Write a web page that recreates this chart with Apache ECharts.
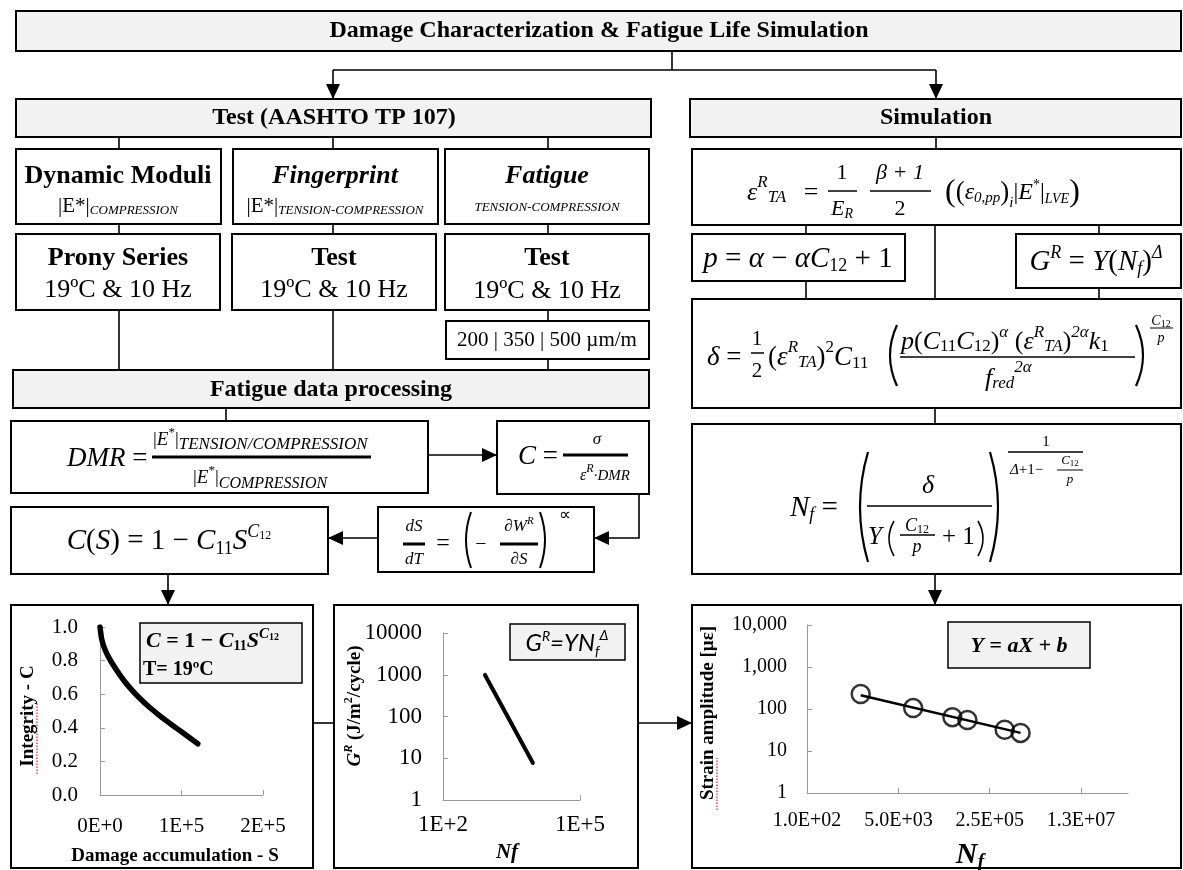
<!DOCTYPE html>
<html><head><meta charset="utf-8">
<script src="https://cdn.jsdelivr.net/npm/echarts@6/dist/echarts.min.js"></script>
<style>html,body{margin:0;padding:0;background:#fff}#c{width:1183px;height:870px}</style>
</head><body><div id="c"></div>
<script>
// ---------- DATA ----------
// Chart 1: damage characteristic curve C(S)
const damageS = [0, 2000, 5000, 10000, 20000, 30000, 40000, 50000, 60000, 70000, 80000, 90000, 100000, 110000, 120000];
const integrityC = [1.0, 0.93, 0.88, 0.825, 0.745, 0.677, 0.62, 0.57, 0.525, 0.485, 0.447, 0.411, 0.376, 0.341, 0.305];
const c1XLabels = ['0E+0', '1E+5', '2E+5'];
const c1YLabels = ['0.0', '0.2', '0.4', '0.6', '0.8', '1.0'];
// Chart 2: G^R vs Nf
const nfG = [830, 9300];
const grG = [990, 7.7];
const c2XLabels = ['1E+2', '1E+5'];
const c2YLabels = ['1', '10', '100', '1000', '10000'];
// Chart 3: strain amplitude vs Nf
const nfTest = [1000, 9500, 51000, 97000, 480000, 950000];
const strainTest = [228, 105, 64, 55, 32, 27];
const nfTrend = [1000, 950000];
const strainTrend = [212, 27];
const c3XLabels = ['1.0E+02', '5.0E+03', '2.5E+05', '1.3E+07'];
const c3YLabels = ['1', '10', '100', '1,000', '10,000'];

// ---------- HELPERS ----------
const SERIF = "'Liberation Serif','Times New Roman',serif";
const SANS = "Lato,'Open Sans',sans-serif";
const GRAY = '#f2f2f2';
const G = [];
const ctx = document.createElement('canvas').getContext('2d');
function fnt(p){return (p.st||'normal')+' '+(p.w||'normal')+' '+p.s+'px '+(p.f||SERIF);}
function seq(x,y,pieces,align,rot){
  const ws=pieces.map(p=>{ctx.font=fnt(p);return ctx.measureText(p.t).width+(p.dx||0);});
  const tot=ws.reduce((a,b)=>a+b,0);
  let a = align==='left'?0:(align==='right'?-tot:-tot/2);
  pieces.forEach((p,i)=>{
    const off=a+(p.dx||0), dy=p.dy||0;
    const el={type:'text',z:10,style:{text:p.t,font:fnt(p),fill:'#000',align:'left',textAlign:'left',verticalAlign:'middle',textVerticalAlign:'middle'}};
    if(rot){el.x=x+dy;el.y=y-off;el.rotation=Math.PI/2;}else{el.x=x+off;el.y=y+dy;}
    G.push(el); a+=ws[i];
  });
}
function T(x,y,t,s,o){seq(x,y,[Object.assign({t:t,s:s},o||{})],(o&&o.align)||'center');}
function rect(x,y,w,h,fill,lw){G.push({type:'rect',z:1,shape:{x:x,y:y,width:w,height:h},style:{fill:fill||'none',stroke:'#000',lineWidth:lw||2}});}
function line(pts,lw){G.push({type:'polyline',z:2,shape:{points:pts},style:{stroke:'#000',lineWidth:lw||1.6,fill:'none'}});}
function arrow(pts){
  line(pts);
  const [x1,y1]=pts[pts.length-2],[x2,y2]=pts[pts.length-1];
  const ang=Math.atan2(y2-y1,x2-x1),L=15,W=7;
  const bx=x2-L*Math.cos(ang),by=y2-L*Math.sin(ang);
  G.push({type:'polygon',z:3,shape:{points:[[x2,y2],[bx+W*Math.sin(ang),by-W*Math.cos(ang)],[bx-W*Math.sin(ang),by+W*Math.cos(ang)]]},style:{fill:'#000'}});
}
function bar(x1,x2,y,lw){line([[x1,y],[x2,y]],lw||1.5);}
function paren(x,y1,y2,w,left,lw){
  const m=(y1+y2)/2;
  const sx= left? x+w : x-w, cx= left? x-w : x+w;
  G.push({type:'bezierCurve',z:4,shape:{x1:sx,y1:y1,x2:sx,y2:y2,cpx1:cx,cpy1:m},style:{stroke:'#000',lineWidth:lw||2,fill:'none'}});
}
function squiggle(x1,y1,x2,y2){G.push({type:'line',z:5,shape:{x1:x1,y1:y1,x2:x2,y2:y2},style:{stroke:'#e03030',lineWidth:1.3,lineDash:[1.5,1.5]}});}

// ---------- FLOW DIAGRAM ----------
rect(16,11,1165,40,GRAY);
line([[672,51],[672,70]]); line([[333,70],[936,70]]);
arrow([[333,70],[333,99]]); arrow([[936,70],[936,99]]);
rect(16,99,635,38,GRAY); rect(690,99,491,38,GRAY);
[119,333,548].forEach(x=>line([[x,137],[x,149]]));
rect(16,149,205,75); rect(233,149,205,75); rect(445,149,204,75);
[119,333,548].forEach(x=>line([[x,224],[x,234]]));
rect(16,234,204,76); rect(232,234,204,76); rect(445,234,204,76);
line([[119,310],[119,370]]); line([[333,310],[333,370]]); line([[548,310],[548,321]]); line([[548,359],[548,370]]);
rect(446,321,203,38);
rect(13,370,636,38,GRAY);
line([[226,408],[226,421]]);
rect(11,421,417,72);
arrow([[428,455],[497,455]]);
rect(497,421,152,73);
arrow([[639,494],[639,538],[594,538]]);
rect(378,507,216,65);
arrow([[378,538],[328,538]]);
rect(11,507,317,67);
arrow([[168,574],[168,605]]);
rect(11,605,302,263);
line([[313,723],[334,723]]);
rect(334,605,304,263);
arrow([[638,723],[692,723]]);
rect(692,605,489,263);
line([[936,137],[936,149]]);
rect(692,149,489,76);
line([[806,225],[806,234]]); line([[1099,225],[1099,234]]); line([[935,225],[935,299]]);
rect(692,234,213,47); rect(1016,234,165,54);
line([[806,281],[806,299]]); line([[1099,288],[1099,299]]);
rect(692,299,489,109);
line([[935,408],[935,424]]);
rect(692,424,489,150);
arrow([[935,574],[935,605]]);

// texts
T(599,31,'Damage Characterization & Fatigue Life Simulation',24,{w:'bold'});
T(334,118,'Test (AASHTO TP 107)',24,{w:'bold'});
T(936,118,'Simulation',24,{w:'bold'});
T(118,176,'Dynamic Moduli',26,{w:'bold'});
seq(118,206,[{t:'|E*|',s:21},{t:'COMPRESSION',s:13,st:'italic',dy:5}]);
T(335,176,'Fingerprint',26,{w:'bold',st:'italic'});
seq(335,206,[{t:'|E*|',s:21},{t:'TENSION-COMPRESSION',s:13,st:'italic',dy:5}]);
T(547,176,'Fatigue',26,{w:'bold',st:'italic'});
T(547,208,'TENSION-COMPRESSION',13,{st:'italic'});
T(118,258,'Prony Series',26,{w:'bold'}); T(118,290,'19ºC & 10 Hz',26);
T(334,258,'Test',26,{w:'bold'}); T(334,290,'19ºC & 10 Hz',26);
T(547,258,'Test',26,{w:'bold'}); T(547,291,'19ºC & 10 Hz',26);
T(547,340,'200 | 350 | 500 µm/m',21);
T(331,390,'Fatigue data processing',24,{w:'bold'});

// DMR
seq(67,459,[{t:'DMR',s:27,st:'italic'},{t:' =',s:27}],'left');
bar(152,371,457,3);
seq(153,440,[{t:'|',s:19},{t:'E',s:19,st:'italic'},{t:'*',s:13,dy:-7},{t:'|',s:19},{t:'TENSION/COMPRESSION',s:17,st:'italic',dy:5}],'left');
seq(193,478,[{t:'|',s:19},{t:'E',s:19,st:'italic'},{t:'*',s:13,dy:-7},{t:'|',s:19},{t:'COMPRESSION',s:16,st:'italic',dy:6}],'left');
// C = sigma / (eps DMR)
seq(518,457,[{t:'C',s:27,st:'italic'},{t:' =',s:27}],'left');
bar(563,628,455,3);
T(597,440,'σ',17,{st:'italic'});
seq(605,476,[{t:'ε',s:16,st:'italic'},{t:'R',s:12,st:'italic',dy:-7},{t:'·DMR',s:15,st:'italic'}]);
// dS/dT
T(414,527,'dS',17,{st:'italic'}); bar(403,425,544,3); T(414,560,'dT',17,{st:'italic'});
T(443,544,'=',24);
paren(466,512,568,5,true,2);
T(481,545,'−',20);
seq(519,527,[{t:'∂W',s:17,st:'italic'},{t:'R',s:11,st:'italic',dy:-6}]); bar(500,538,544,3); T(519,560,'∂S',17,{st:'italic'});
paren(545,512,568,5,false,2);
T(565,516,'∝',17);
// C(S)
seq(169,541,[{t:'C',s:29,st:'italic'},{t:'(',s:29},{t:'S',s:29,st:'italic'},{t:') = 1 − ',s:29},{t:'C',s:29,st:'italic'},{t:'11',s:18,dy:8},{t:'S',s:29,st:'italic'},{t:'C',s:18,st:'italic',dy:-9},{t:'12',s:12,dy:-5}]);

// epsilon_TA
seq(747,193,[{t:'ε',s:26,st:'italic'},{t:'R',s:17,st:'italic',dy:-10},{t:'TA',s:17,st:'italic',dy:5}],'left');
T(811,193,'=',26);
bar(828,857,191); T(842,173,'1',22); seq(842,209,[{t:'E',s:22,st:'italic'},{t:'R',s:14,st:'italic',dy:5}]);
bar(870,931,191); T(900,173,'β + 1',22,{st:'italic'}); T(900,209,'2',22);
seq(945,193,[{t:'(',s:32},{t:'(',s:27},{t:'ε',s:24,st:'italic'},{t:'0,pp',s:15,st:'italic',dy:5},{t:')',s:27},{t:'i',s:15,st:'italic',dy:10},{t:'|',s:24},{t:'E',s:24,st:'italic'},{t:'*',s:14,dy:-8},{t:'|',s:24},{t:'LVE',s:14,st:'italic',dy:6},{t:')',s:32}],'left');
// p
seq(798,259,[{t:'p',s:29,st:'italic'},{t:' = ',s:29},{t:'α',s:29,st:'italic'},{t:' − ',s:29},{t:'αC',s:29,st:'italic'},{t:'12',s:18,dy:7},{t:' + 1',s:29}]);
// G^R
seq(1096,262,[{t:'G',s:29,st:'italic'},{t:'R',s:18,st:'italic',dy:-9},{t:' = ',s:29},{t:'Y',s:29,st:'italic'},{t:'(',s:29},{t:'N',s:29,st:'italic'},{t:'f',s:18,st:'italic',dy:7},{t:')',s:29},{t:'Δ',s:18,st:'italic',dy:-9}]);
// delta
seq(707,358,[{t:'δ',s:27,st:'italic'},{t:' =',s:27}],'left');
bar(751,764,353); T(757,339,'1',21); T(757,371,'2',21);
seq(768,358,[{t:'(',s:27},{t:'ε',s:27,st:'italic'},{t:'R',s:17,st:'italic',dy:-10},{t:'TA',s:17,st:'italic',dy:5},{t:')',s:27},{t:'2',s:17,dy:-10},{t:'C',s:27,st:'italic'},{t:'11',s:17,dy:6}],'left');
paren(890,325,386,7,true,2.2);
seq(901,342,[{t:'p',s:26,st:'italic'},{t:'(',s:26},{t:'C',s:26,st:'italic'},{t:'11',s:17,dy:5},{t:'C',s:26,st:'italic'},{t:'12',s:17,dy:5},{t:')',s:26},{t:'α',s:17,st:'italic',dy:-9},{t:' (',s:26},{t:'ε',s:26,st:'italic'},{t:'R',s:17,st:'italic',dy:-9},{t:'TA',s:17,st:'italic',dy:5},{t:')',s:26},{t:'2α',s:17,st:'italic',dy:-9},{t:'k',s:26,st:'italic'},{t:'1',s:17,dy:5}],'left');
bar(900,1135,357);
seq(985,379,[{t:'f',s:26,st:'italic'},{t:'red',s:17,st:'italic',dy:5},{t:'2α',s:17,st:'italic',dy:-11}],'left');
paren(1143,325,386,7,false,2.2);
seq(1161,321,[{t:'C',s:14,st:'italic'},{t:'12',s:10,dy:3}]); bar(1150,1173,328,1); T(1161,338,'p',14,{st:'italic'});
// N_f
seq(790,508,[{t:'N',s:29,st:'italic'},{t:'f',s:18,st:'italic',dy:7},{t:' =',s:29}],'left');
paren(860,452,562,8,true,2.2);
T(928,486,'δ',26,{st:'italic'});
bar(867,992,506);
T(868,537,'Y',25,{st:'italic',align:'left'});
paren(889,521,556,5,true,1.6);
seq(917,526,[{t:'C',s:18,st:'italic'},{t:'12',s:12,dy:4}]); bar(900,935,535,1.3); T(917,547,'p',18,{st:'italic'});
T(942,537,'+ 1',25,{align:'left'});
paren(983,521,556,5,false,1.6);
paren(998,452,562,8,false,2.2);
T(1046,442,'1',15);
bar(1008,1083,452,1.5);
seq(1010,470,[{t:'Δ',s:15,st:'italic'},{t:'+1−',s:15}],'left');
seq(1070,461,[{t:'C',s:13,st:'italic'},{t:'12',s:9,dy:3}]); bar(1057,1083,470,1); T(1070,480,'p',13,{st:'italic'});

// ---------- CHART DECORATIONS ----------
rect(140,623,162,60,GRAY,1.5);
seq(146,641,[{t:'C',s:22,w:'bold',st:'italic'},{t:' = 1 − ',s:22,w:'bold'},{t:'C',s:22,w:'bold',st:'italic'},{t:'11',s:14,w:'bold',dy:5},{t:'S',s:22,w:'bold',st:'italic'},{t:'C',s:15,w:'bold',st:'italic',dy:-7},{t:'12',s:10,w:'bold',dy:-4}],'left');
T(143,670,'T= 19ºC',20,{w:'bold',align:'left'});
seq(28,716,[{t:'Integrity - C',s:19,w:'bold'}],'center',true);
squiggle(37,774,37,703);
T(175,856,'Damage accumulation - S',19,{w:'bold'});

rect(510,624,115,36,GRAY,1.5);
seq(567,643,[{t:'G',s:24,st:'italic',f:SANS},{t:'R',s:14,st:'italic',f:SANS,dy:-7},{t:'=YN',s:24,st:'italic',f:SANS},{t:'f',s:14,st:'italic',f:SANS,dy:8},{t:'Δ',s:14,st:'italic',f:SANS,dy:-8}]);
seq(355,706,[{t:'G',s:19,w:'bold',st:'italic'},{t:'R',s:12,w:'bold',st:'italic',dy:-6},{t:' (J/m',s:19,w:'bold'},{t:'2',s:12,w:'bold',dy:-6},{t:'/cycle)',s:19,w:'bold'}],'center',true);
T(507,853,'Nf',21,{w:'bold',st:'italic'});

rect(948,622,142,46,GRAY,1.5);
T(1019,646,'Y = aX + b',22,{w:'bold',st:'italic'});
seq(708,713,[{t:'Strain amplitude [µε]',s:19,w:'bold'}],'center',true);
squiggle(717,810,717,758);
seq(970,855,[{t:'N',s:30,w:'bold',st:'italic'},{t:'f',s:20,w:'bold',st:'italic',dy:8}]);

// ---------- CHARTS ----------
const axLine={show:true,onZero:false,lineStyle:{color:'#999',width:1}};
const axTick={show:true,inside:true,length:5,lineStyle:{color:'#999'}};
function lab(size,margin,fmt,extra){return Object.assign({color:'#000',fontFamily:SERIF,fontSize:size,margin:margin,formatter:fmt},extra||{});}
const chart=echarts.init(document.getElementById('c'),null,{renderer:'canvas'});
chart.setOption({
  animation:false,
  backgroundColor:'#fff',
  grid:[{left:100,top:627,width:163,height:168},{left:443,top:633,width:137,height:167},{left:807,top:625,width:321,height:168}],
  xAxis:[
    {type:'value',gridIndex:0,min:0,max:200000,interval:100000,axisLine:axLine,axisTick:axTick,splitLine:{show:false},
     axisLabel:lab(21,21,v=>c1XLabels[Math.round(v/100000)]||'')},
    {type:'log',logBase:10,gridIndex:1,min:100,max:100000,interval:3,axisLine:axLine,axisTick:axTick,splitLine:{show:false},
     axisLabel:lab(23,13,v=>c2XLabels[Math.round((Math.log10(v)-2)/3)]||'')},
    {type:'log',logBase:50,gridIndex:2,min:100,max:9.5e7,interval:1,axisLine:axLine,axisTick:axTick,splitLine:{show:false},
     axisLabel:lab(20,18,v=>c3XLabels[Math.round(Math.log(v/100)/Math.log(50))]||'',{showMaxLabel:false})}
  ],
  yAxis:[
    {type:'value',gridIndex:0,min:0,max:1,interval:0.2,axisLine:axLine,axisTick:axTick,splitLine:{show:false},
     axisLabel:lab(21,22,v=>c1YLabels[Math.round(v/0.2)]||'')},
    {type:'log',logBase:10,gridIndex:1,min:1,max:10000,interval:1,axisLine:axLine,axisTick:axTick,splitLine:{show:false},
     axisLabel:lab(23,21,v=>c2YLabels[Math.round(Math.log10(v))]||'')},
    {type:'log',logBase:10,gridIndex:2,min:1,max:10000,interval:1,axisLine:axLine,axisTick:axTick,splitLine:{show:false},
     axisLabel:lab(20,20,v=>c3YLabels[Math.round(Math.log10(v))]||'')}
  ],
  series:[
    {type:'line',xAxisIndex:0,yAxisIndex:0,data:damageS.map((s,i)=>[s,integrityC[i]]),showSymbol:false,smooth:0.2,
     lineStyle:{color:'#000',width:5.5,cap:'round'}},
    {type:'line',xAxisIndex:1,yAxisIndex:1,data:nfG.map((n,i)=>[n,grG[i]]),showSymbol:false,
     lineStyle:{color:'#000',width:4,cap:'round'}},
    {type:'line',xAxisIndex:2,yAxisIndex:2,data:nfTrend.map((n,i)=>[n,strainTrend[i]]),showSymbol:false,
     lineStyle:{color:'#000',width:2.5}},
    {type:'scatter',xAxisIndex:2,yAxisIndex:2,data:nfTest.map((n,i)=>[n,strainTest[i]]),symbol:'circle',symbolSize:18,
     itemStyle:{color:'rgba(0,0,0,0)',borderColor:'#000',borderWidth:2.5}}
  ],
  graphic:{elements:G}
});
</script></body></html>
